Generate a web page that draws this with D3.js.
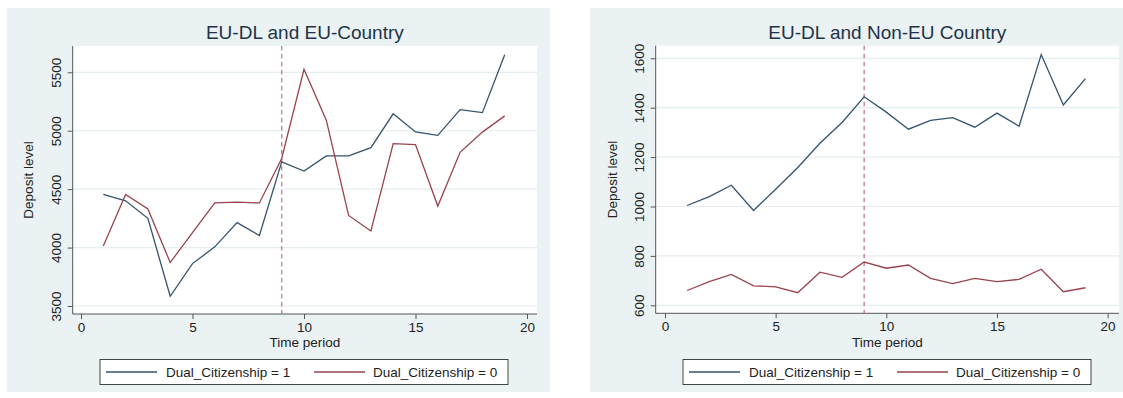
<!DOCTYPE html>
<html>
<head>
<meta charset="utf-8">
<script src="https://cdn.jsdelivr.net/npm/d3@7"></script>
<style>
  html, body { margin: 0; padding: 0; background: #ffffff; }
  svg { display: block; font-family: "Liberation Sans", Arial, sans-serif; }
</style>
</head>
<body>
<svg id="chart" width="1123" height="398"></svg>
<script>
// ---- Data ----
const periods = [1,2,3,4,5,6,7,8,9,10,11,12,13,14,15,16,17,18,19];
const seriesNames = ["Dual_Citizenship = 1", "Dual_Citizenship = 0"];
const panelTitles = ["EU-DL and EU-Country", "EU-DL and Non-EU Country"];
const xTicks = [0, 5, 10, 15, 20];
const treatmentPeriod = 9;

// Panel 1: EU-DL and EU-Country
const euDual1 = [4455,4400,4250,3583,3863,4006,4214,4103,4734,4655,4785,4785,4855,5145,4990,4960,5180,5155,5650];
const euDual0 = [4014,4455,4331,3872,4128,4383,4389,4382,4763,5526,5090,4275,4142,4890,4882,4355,4815,4988,5127];
const euYTicks = [3500, 4000, 4500, 5000, 5500];

// Panel 2: EU-DL and Non-EU Country
const nonEuDual1 = [1004,1040,1086,984,1070,1158,1256,1340,1444,1382,1313,1349,1360,1321,1378,1325,1615,1411,1518];
const nonEuDual0 = [660,696,725,679,675,651,734,713,775,750,763,709,688,709,696,705,746,655,671];
const nonEuYTicks = [600, 800, 1000, 1200, 1400, 1600];

const colors = ["#34536f", "#9a434c"];

const svg = d3.select("#chart");

function drawPanel(cfg) {
  const g = svg.append("g");
  // background region
  g.append("rect").attr("x", cfg.bg[0]).attr("y", cfg.bg[1])
    .attr("width", cfg.bg[2]).attr("height", cfg.bg[3]).attr("fill", "#eaf2f3");
  // plot region
  g.append("rect").attr("x", cfg.plot[0]).attr("y", cfg.plot[1])
    .attr("width", cfg.plot[2] - cfg.plot[0]).attr("height", cfg.plot[3] - cfg.plot[1])
    .attr("fill", "#ffffff");

  const x = d3.scaleLinear().domain([0, 20]).range(cfg.xRange);
  const y = d3.scaleLinear().domain([cfg.yTicks[0], cfg.yTicks[cfg.yTicks.length - 1]]).range(cfg.yRange);

  // gridlines
  g.append("g").selectAll("line").data(cfg.yTicks).join("line")
    .attr("x1", cfg.plot[0]).attr("x2", cfg.plot[2])
    .attr("y1", d => y(d)).attr("y2", d => y(d))
    .attr("stroke", "#e4eef0").attr("stroke-width", 1.2);

  // y axis
  const yAxis = d3.axisLeft(y).tickValues(cfg.yTicks).tickSize(5).tickPadding(6).tickFormat(d3.format("d"));
  const ya = g.append("g").attr("transform", `translate(${cfg.plot[0]},0)`).call(yAxis);
  ya.select(".domain").remove();
  ya.append("line").attr("x1", 0).attr("x2", 0).attr("y1", cfg.plot[1]).attr("y2", cfg.plot[3])
    .attr("stroke", "#555").attr("stroke-width", 1);
  ya.selectAll(".tick line").attr("stroke", "#555");
  ya.selectAll(".tick text")
    .attr("font-size", 13.5).attr("fill", "#222")
    .attr("font-family", "Liberation Sans, Arial, sans-serif")
    .attr("text-anchor", "middle").attr("dy", null)
    .attr("x", null)
    .attr("transform", "translate(-12,0) rotate(-90)")
    .attr("y", 0);

  // x axis
  const xAxis = d3.axisBottom(x).tickValues(xTicks).tickSize(5).tickPadding(3).tickFormat(d3.format("d"));
  const xa = g.append("g").attr("transform", `translate(0,${cfg.plot[3]})`).call(xAxis);
  xa.select(".domain").remove();
  xa.append("line").attr("x1", cfg.plot[0]).attr("x2", cfg.plot[2]).attr("y1", 0).attr("y2", 0)
    .attr("stroke", "#555").attr("stroke-width", 1);
  xa.selectAll(".tick line").attr("stroke", "#555");
  xa.selectAll(".tick text").attr("font-size", 13.5).attr("fill", "#222")
    .attr("font-family", "Liberation Sans, Arial, sans-serif");

  // treatment line
  g.append("line")
    .attr("x1", x(treatmentPeriod)).attr("x2", x(treatmentPeriod))
    .attr("y1", cfg.plot[1]).attr("y2", cfg.plot[3])
    .attr("stroke", "#c5829a").attr("stroke-width", 1.4)
    .attr("stroke-dasharray", "4.5,3.5");

  // series lines
  const line = d3.line().x((d, i) => x(periods[i])).y(d => y(d));
  cfg.series.forEach((s, k) => {
    g.append("path").datum(s).attr("d", line)
      .attr("fill", "none").attr("stroke", colors[k]).attr("stroke-width", 1.3)
      .attr("stroke-linejoin", "miter");
  });

  // title
  g.append("text").attr("x", (cfg.plot[0] + cfg.plot[2]) / 2).attr("y", 39)
    .attr("text-anchor", "middle").attr("font-size", 19).attr("fill", "#1f3347")
    .text(cfg.title);

  // axis titles
  g.append("text").attr("x", (cfg.plot[0] + cfg.plot[2]) / 2).attr("y", 347)
    .attr("text-anchor", "middle").attr("font-size", 13.5).attr("fill", "#222")
    .text("Time period");
  g.append("text")
    .attr("transform", `translate(${cfg.yTitleX},${(cfg.plot[1] + cfg.plot[3]) / 2}) rotate(-90)`)
    .attr("text-anchor", "middle").attr("font-size", 13.5).attr("fill", "#222")
    .text("Deposit level");

  // legend
  const lx = cfg.legendX;
  g.append("rect").attr("x", lx).attr("y", 359.5).attr("width", 408).attr("height", 25)
    .attr("fill", "#ffffff").attr("stroke", "#444").attr("stroke-width", 1);
  const items = [{off: 6, textOff: 66}, {off: 214, textOff: 273}];
  seriesNames.forEach((name, k) => {
    g.append("line").attr("x1", lx + items[k].off).attr("x2", lx + items[k].off + 51)
      .attr("y1", 372).attr("y2", 372).attr("stroke", colors[k]).attr("stroke-width", 1.3);
    g.append("text").attr("x", lx + items[k].textOff).attr("y", 377)
      .attr("font-size", 13.5).attr("fill", "#222").text(name);
  });
}

drawPanel({
  title: panelTitles[0],
  bg: [7, 8, 543, 384],
  plot: [72.7, 46, 537, 314],
  xRange: [81, 527],
  yRange: [306, 72.3],
  yTicks: euYTicks,
  series: [euDual1, euDual0],
  yTitleX: 33,
  legendX: 100
});

drawPanel({
  title: panelTitles[1],
  bg: [590, 8, 533, 384],
  plot: [655.7, 45.7, 1119, 313.3],
  xRange: [665, 1107.6],
  yRange: [305.3, 58.3],
  yTicks: nonEuYTicks,
  series: [nonEuDual1, nonEuDual0],
  yTitleX: 617,
  legendX: 683
});
</script>
</body>
</html>
